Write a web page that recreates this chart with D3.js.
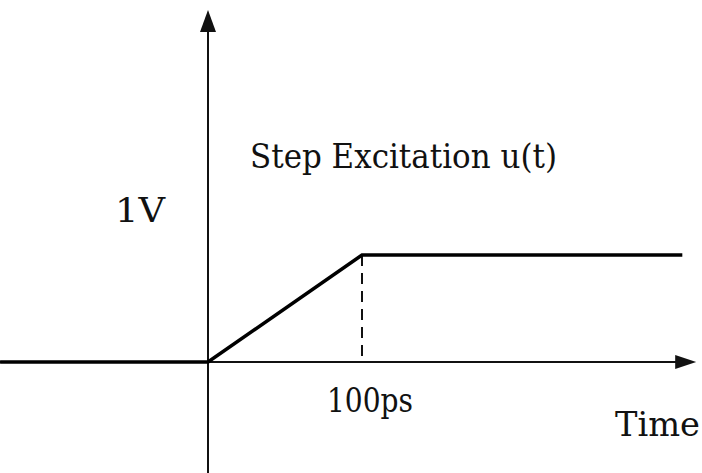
<!DOCTYPE html>
<html>
<head>
<meta charset="utf-8">
<script src="https://cdn.jsdelivr.net/npm/d3@7"></script>
<style>
  body { margin: 0; background: #fff; }
  .label { font-family: "DejaVu Serif", "Liberation Serif", serif; fill: #111; }
</style>
</head>
<body>
<div id="chart"></div>
<script>
// step excitation u(t): time in ps, voltage in V
var timePs = [-135, 0, 100, 308];
var voltage = [0, 0, 1, 1];

// axis extents (time / voltage units)
var xAxisRange = [-135, 317];
var yAxisRange = [-1.04, 3.29];

// labels
var riseTime = 100;
var levelLabel = "1V";
var riseLabel = "100ps";
var titleLabel = "Step Excitation u(t)";
var axisLabel = "Time";

var width = 702, height = 473;

var svg = d3.select("#chart").append("svg")
    .attr("width", width)
    .attr("height", height);

var xScale = d3.scaleLinear()
    .domain([0, 100])
    .range([208, 362]);

var yScale = d3.scaleLinear()
    .domain([0, 1])
    .range([362, 255]);

// x axis
svg.append("line")
    .attr("x1", xScale(xAxisRange[0]))
    .attr("x2", xScale(xAxisRange[1]) - 12)
    .attr("y1", yScale(0))
    .attr("y2", yScale(0))
    .style("stroke", "#111")
    .style("stroke-width", 2);

svg.append("path")
    .attr("d", "M" + xScale(xAxisRange[1]) + "," + yScale(0) +
               "L" + (xScale(xAxisRange[1]) - 21) + "," + (yScale(0) - 7) +
               "L" + (xScale(xAxisRange[1]) - 21) + "," + (yScale(0) + 7) + "Z")
    .style("fill", "#111");

// y axis
svg.append("line")
    .attr("x1", xScale(0))
    .attr("x2", xScale(0))
    .attr("y1", yScale(yAxisRange[0]))
    .attr("y2", yScale(yAxisRange[1]) + 12)
    .style("stroke", "#111")
    .style("stroke-width", 2);

svg.append("path")
    .attr("d", "M" + xScale(0) + "," + yScale(yAxisRange[1]) +
               "L" + (xScale(0) - 8) + "," + (yScale(yAxisRange[1]) + 22) +
               "L" + (xScale(0) + 8) + "," + (yScale(yAxisRange[1]) + 22) + "Z")
    .style("fill", "#111");

// dashed marker at the rise time
svg.append("line")
    .attr("x1", xScale(riseTime))
    .attr("x2", xScale(riseTime))
    .attr("y1", yScale(1))
    .attr("y2", yScale(0))
    .style("stroke", "#111")
    .style("stroke-width", 2)
    .style("stroke-dasharray", "11,7");

// the signal
var line = d3.line()
    .x(function(d, i) { return xScale(timePs[i]); })
    .y(function(d) { return yScale(d); });

svg.append("path")
    .datum(voltage)
    .attr("d", line)
    .style("fill", "none")
    .style("stroke", "#000")
    .style("stroke-width", 3.5)
    .style("stroke-linejoin", "miter");

// text
function addLabel(txt, x, y, len) {
    svg.append("text")
        .attr("class", "label")
        .attr("x", x)
        .attr("y", y)
        .attr("textLength", len)
        .attr("lengthAdjust", "spacingAndGlyphs")
        .style("font-size", "33px")
        .text(txt);
}

addLabel(titleLabel, 250, 168, 307);
addLabel(levelLabel, 115, 222, 50);
addLabel(riseLabel, 327, 412, 86);
addLabel(axisLabel, 615, 436, 85);
</script>
</body>
</html>
